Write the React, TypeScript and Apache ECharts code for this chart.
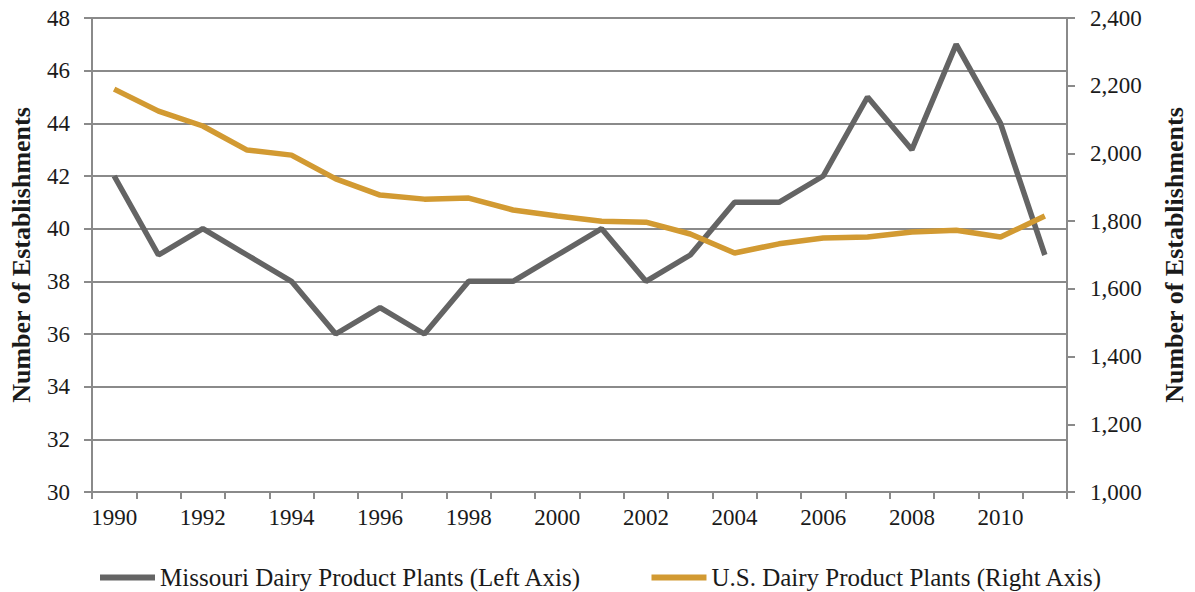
import React, { useEffect, useRef } from "react";
import * as echarts from "echarts";

const years = ["1990","1991","1992","1993","1994","1995","1996","1997","1998","1999","2000","2001","2002","2003","2004","2005","2006","2007","2008","2009","2010","2011"];
const missouri = [42, 39, 40, 39, 38, 36, 37, 36, 38, 38, 39, 40, 38, 39, 41, 41, 42, 45, 43, 47, 44, 39];
const us = [2190, 2125, 2081, 2010, 1995, 1925, 1877, 1865, 1868, 1833, 1815, 1800, 1797, 1762, 1706, 1733, 1750, 1753, 1768, 1773, 1753, 1815];

const FONT = "'Liberation Serif', 'DejaVu Serif', serif";
const GRAY = "#646464";
const GOLD = "#D29A32";
const AXIS = "#8a8a8a";
const TXT = "#1a1a1a";

export default function App() {
  const ref = useRef<HTMLDivElement>(null);
  useEffect(() => {
    const chart = echarts.init(ref.current!, undefined, { renderer: "svg" });
    chart.setOption({
      animation: false,
      textStyle: { fontFamily: FONT },
      grid: { left: 91, right: 118, top: 18, bottom: 100, containLabel: false },
      legend: {
        bottom: 2,
        left: 100,
        padding: 0,
        icon: "rect",
        itemWidth: 55,
        itemHeight: 6,
        itemGap: 70,
        textStyle: { fontFamily: FONT, fontSize: 25, color: TXT },
        data: ["Missouri Dairy Product Plants (Left Axis)", "U.S. Dairy Product Plants (Right Axis)"],
      },
      xAxis: {
        type: "category",
        data: years,
        boundaryGap: true,
        axisLine: { lineStyle: { color: AXIS, width: 2 } },
        axisTick: { show: true, interval: 0, length: 7, lineStyle: { color: AXIS, width: 2 } },
        axisLabel: { interval: 1, fontSize: 23, color: TXT, fontFamily: FONT, margin: 14 },
        splitLine: { show: false },
      },
      yAxis: [
        {
          type: "value",
          min: 30,
          max: 48,
          interval: 2,
          position: "left",
          name: "Number of Establishments",
          nameLocation: "middle",
          nameGap: 58,
          nameTextStyle: { fontFamily: FONT, fontSize: 26, fontWeight: "bold", color: TXT },
          axisLine: { show: true, lineStyle: { color: AXIS, width: 2 } },
          axisTick: { show: true, length: 8, lineStyle: { color: AXIS, width: 2 } },
          axisLabel: { fontSize: 23, color: TXT, fontFamily: FONT, margin: 22 },
          splitLine: { show: true, lineStyle: { color: AXIS, width: 2 } },
        },
        {
          type: "value",
          min: 1000,
          max: 2400,
          interval: 200,
          position: "right",
          name: "Number of Establishments",
          nameLocation: "middle",
          nameGap: 94,
          nameRotate: 90,
          nameTextStyle: { fontFamily: FONT, fontSize: 26, fontWeight: "bold", color: TXT },
          axisLine: { show: true, lineStyle: { color: AXIS, width: 2 } },
          axisTick: { show: true, length: 8, lineStyle: { color: AXIS, width: 2 } },
          axisLabel: {
            fontSize: 23,
            color: TXT,
            fontFamily: FONT,
            margin: 23,
            formatter: (v: number) => v.toLocaleString("en-US"),
          },
          splitLine: { show: false },
        },
      ],
      series: [
        {
          name: "Missouri Dairy Product Plants (Left Axis)",
          type: "line",
          yAxisIndex: 0,
          data: missouri,
          showSymbol: false,
          symbol: "none",
          lineStyle: { color: GRAY, width: 5.5 },
          itemStyle: { color: GRAY },
        },
        {
          name: "U.S. Dairy Product Plants (Right Axis)",
          type: "line",
          yAxisIndex: 1,
          data: us,
          showSymbol: false,
          symbol: "none",
          lineStyle: { color: GOLD, width: 5.5 },
          itemStyle: { color: GOLD },
        },
      ],
    });
    return () => chart.dispose();
  }, []);
  return (
    <div
      ref={ref}
      style={{ position: "absolute", left: 0, top: 0, width: 1195, height: 592, background: "#fff" }}
    />
  );
}
